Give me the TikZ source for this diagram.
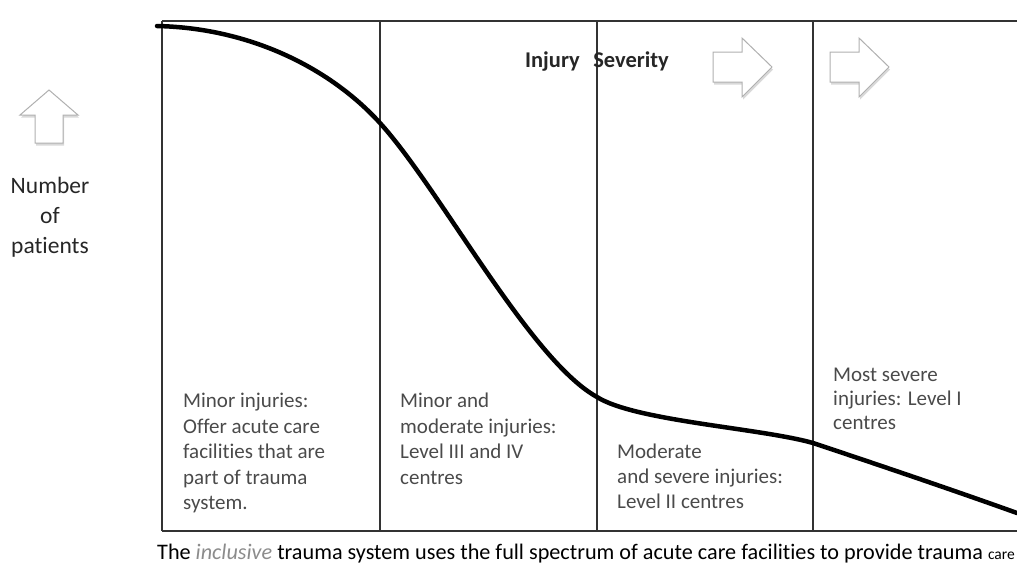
\documentclass[tikz,border=0pt]{standalone}
\usepackage{fontspec}
\setmainfont{Carlito}[Ligatures=NoCommon]
\usepackage{tikz}
\usetikzlibrary{shadows}
\usepackage{xcolor}
\definecolor{framegray}{HTML}{333333}
\definecolor{textgray}{HTML}{4A4A4A}
\definecolor{arrowgray}{HTML}{B0B0B0}
\tikzstyle{chart}=[
  x=1pt,y=-1pt,font=\fontsize{21}{25.5}\selectfont
]
\tikzstyle{frameline}=[
  draw=framegray,line width=1.8pt
]
\tikzstyle{curveline}=[
  line width=4.5pt,line cap=round,black
]
\tikzstyle{blockarrow}=[
  draw=arrowgray,fill=white,line width=1pt,line join=miter,
  drop shadow={opacity=0.3,shadow xshift=1pt,shadow yshift=-2.5pt}
]
\tikzstyle{boxtext}=[
  anchor=north west,align=left,inner sep=0pt,text=textgray
]

\begin{document}
\begin{tikzpicture}[chart]
    \useasboundingbox (0,0) rectangle (1017,568);
    % frame and columns
    \draw [frameline] (162,21) -- (1017,21);
    \draw [frameline] (162,531) -- (1017,531);
    \foreach \cx in {162,380,597,813}
      \draw [frameline] (\cx,21) -- (\cx,531);
    % number of patients
    \draw [blockarrow] (49,90) -- (78,115) -- (63,115) -- (63,143)
      -- (35,143) -- (35,115) -- (20,115) -- cycle;
    \node (patients) at (50,177) [anchor=north,align=center,inner sep=0pt,
      font=\fontsize{23.5}{30}\selectfont,text=black!85]
      {Number\\of\\patients};
    % injury severity
    \node (severity) at (597,67) [anchor=base,inner sep=0pt,
      font=\fontsize{22.5}{26}\selectfont\bfseries,text=black!85]
      {Injury\hspace{0.6em}Severity};
    \foreach \ax in {713,830}
      \draw [blockarrow] (\ax,52) -- ++(29,0) -- ++(0,-14) -- ++(30,29)
        -- ++(-30,30) -- ++(0,-15) -- ++(-29,0) -- cycle;
    % curve
    \draw [curveline] (157,26) .. controls (250,28) and (330,68) .. (380,123)
      .. controls (440,189) and (530,360) .. (597,397)
      .. controls (635,421) and (760,428) .. (813,443)
      .. controls (873,463) and (950,489) .. (1017,513);
    % column texts
    \node (minor) at (183,393) [boxtext]
      {Minor injuries:\\Offer acute care\\facilities that are\\part of trauma\\system.};
    \node (moderate) at (400,393) [boxtext]
      {Minor and\\moderate injuries:\\Level III and IV\\centres};
    \node (severe) at (617,444) [boxtext,font=\fontsize{21}{25}\selectfont]
      {Moderate\\and severe injuries:\\Level II centres};
    \node (mostsevere) at (833,368) [boxtext,font=\fontsize{21}{24}\selectfont]
      {Most severe\\injuries: Level I\\centres};
    % caption
    \node (caption) at (157,559) [anchor=base west,inner sep=0pt,
      font=\fontsize{22.2}{26}\selectfont]
      {The \textcolor{black!45}{\textit{inclusive}} trauma system uses the full spectrum of acute care facilities to provide trauma {\fontsize{15.5}{18}\selectfont care}};
\end{tikzpicture}
\end{document}
